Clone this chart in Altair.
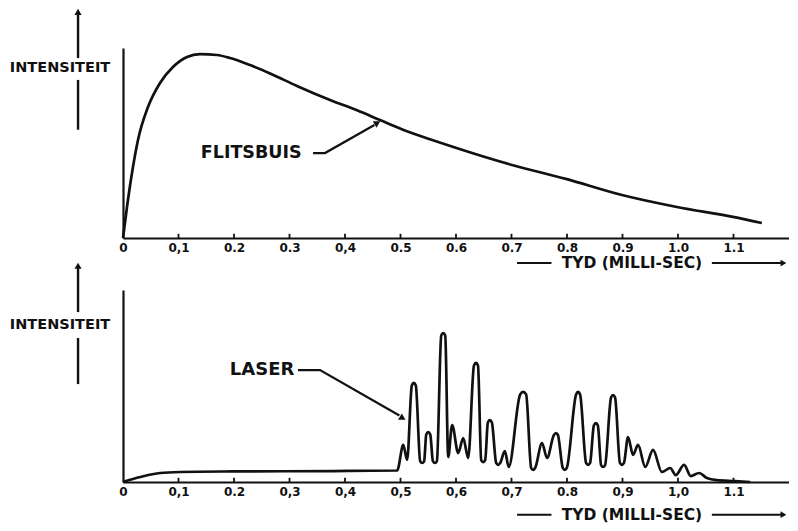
import altair as alt
import pandas as pd

# ---------------- data ----------------
# top panel: flash tube (FLITSBUIS) intensity, arbitrary units
flits_t = [0, 0.0072, 0.0162, 0.027, 0.045, 0.0667, 0.090, 0.1153, 0.1387, 0.1694, 0.193,
           0.229, 0.265, 0.3135, 0.373, 0.4216, 0.463, 0.5045, 0.553, 0.598, 0.701,
           0.798, 0.899, 0.998, 1.099, 1.151]
flits_i = [0, 16.3, 34.2, 51.6, 68.9, 81.6, 90.0, 95.3, 96.8, 96.3, 94.7,
           91.0, 86.6, 80.0, 72.6, 67.2, 62.1, 57.0, 52.0, 47.6, 38.4,
           31.1, 22.6, 16.3, 11.1, 7.9]

# bottom panel: laser output (spiking), arbitrary units
laser_t = [0, 0.031, 0.067, 0.103, 0.198, 0.378, 0.494,
           0.505, 0.512,
           0.5204, 0.524, 0.5276,
           0.5354, 0.539, 0.5426,
           0.5464, 0.550, 0.5536,
           0.5584, 0.562, 0.5656,
           0.5734, 0.577, 0.5806,
           0.586, 0.593, 0.604, 0.613, 0.622,
           0.6324, 0.636, 0.6396,
           0.6454, 0.649, 0.6526,
           0.6574, 0.661, 0.6646,
           0.6724, 0.676, 0.6796,
           0.688, 0.695,
           0.7156, 0.721, 0.7264,
           0.7354, 0.739, 0.7426,
           0.755, 0.764,
           0.7764, 0.780, 0.7836,
           0.7924, 0.796, 0.7996,
           0.8164, 0.820, 0.8236,
           0.8344, 0.838, 0.8416,
           0.8484, 0.852, 0.8556,
           0.8614, 0.865, 0.8686,
           0.8794, 0.883, 0.8866,
           0.8954, 0.899, 0.9026,
           0.910, 0.919, 0.928, 0.941, 0.955, 0.971, 0.986, 0.996, 1.011, 1.023,
           1.038, 1.052, 1.070, 1.103, 1.130]
laser_i = [0, 2.6, 4.7, 5.2, 5.5, 5.7, 6.0,
           19.3, 11.5,
           50.3, 51.6, 50.3,
           10.9, 9.9, 10.9,
           24.7, 26.0, 24.7,
           10.9, 9.9, 10.9,
           76.3, 77.6, 76.3,
           13.0, 29.7, 15.1, 22.9, 12.5,
           60.7, 62.0, 60.7,
           11.4, 10.4, 11.4,
           31.0, 32.3, 31.0,
           9.9, 8.9, 9.9,
           16.1, 7.8,
           45.6, 46.9, 45.6,
           7.3, 6.3, 7.3,
           20.3, 12.5,
           24.5, 25.5, 24.5,
           7.3, 6.3, 7.3,
           45.6, 46.9, 45.6,
           9.9, 8.9, 9.9,
           29.4, 30.7, 29.4,
           8.8, 7.8, 8.8,
           44.0, 45.3, 44.0,
           9.9, 8.9, 9.9,
           23.4, 14.1, 19.3, 7.8, 16.7, 5.2, 7.3, 3.6, 8.9, 3.1,
           4.7, 2.1, 1.0, 0.5, 0]

tick_values = [0, 0.1, 0.2, 0.3, 0.4, 0.5, 0.6, 0.7, 0.8, 0.9, 1.0, 1.1]
top_tick_labels = ["0", "0,1", "0.2", "0.3", "0,4", "0.5", "0.6", "0.7", "0.8", "0.9", "1.0", "1.1"]
bottom_tick_labels = ["0", "0,1", "0.2", "0,3", "0,4", "0,5", "0,6", "0,7", "0.8", "0,9", "1,0", "1.1"]

y_title = "INTENSITEIT"
x_title = "TYD (MILLI-SEC)"
top_label = "FLITSBUIS"
bottom_label = "LASER"

# ---------------- layout constants ----------------
W = 666
XD = [0, 1.2]
YD = [0, 100]
FONT = "DejaVu Sans"
INK = "#111111"


def label_expr(labels):
    arr = ",".join("'" + s + "'" for s in labels)
    return f"[{arr}][round(datum.value*10)]"


def panel(curve_t, curve_v, tick_labels, height, arrow_top, arrow_mid_hi, text_v,
          arrow_mid_lo, arrow_low, title_v, name_label, name_pos, name_size, leader,
          head, head_angle):
    xaxis = alt.Axis(values=tick_values, labelExpr=label_expr(tick_labels), domain=True,
                     domainWidth=2.2, domainColor=INK, ticks=False, grid=False,
                     labelFont=FONT, labelFontWeight="bold", labelFontSize=12,
                     labelColor=INK, labelPadding=4, labelFlush=False, title=None)
    yaxis = alt.Axis(domain=True, domainWidth=2.2, domainColor=INK, ticks=False,
                     labels=False, grid=False, title=None)
    xscale = alt.Scale(domain=XD, nice=False, zero=False)
    yscale = alt.Scale(domain=YD, nice=False, zero=False)

    def X():
        return alt.X("t:Q", scale=xscale, axis=xaxis)

    def Y():
        return alt.Y("v:Q", scale=yscale, axis=yaxis)

    curve_df = pd.DataFrame({"t": curve_t, "v": curve_v})
    curve = alt.Chart(curve_df).mark_line(
        interpolate="monotone", color=INK, strokeWidth=2.7
    ).encode(x=X(), y=Y())

    tick_df = pd.DataFrame({"t": tick_values[1:], "v": [0] * 11, "v2": [2.2] * 11})
    ticks = alt.Chart(tick_df).mark_rule(color=INK, strokeWidth=1.8).encode(
        x=X(), y=Y(), y2="v2:Q")

    # y axis arrow (outside plot)
    ax_t = -0.081
    yarrow_df = pd.DataFrame({"t": [ax_t, ax_t], "v": [arrow_mid_hi, arrow_low],
                              "v2": [arrow_top - 2, arrow_mid_lo]})
    yarrow = alt.Chart(yarrow_df).mark_rule(color=INK, strokeWidth=2.4).encode(
        x=X(), y=Y(), y2="v2:Q")
    yhead = alt.Chart(pd.DataFrame({"t": [ax_t], "v": [arrow_top - 2.0]})).mark_point(
        shape="triangle-up", filled=True, size=50, color=INK, opacity=1).encode(x=X(), y=Y())

    ytext = alt.Chart(pd.DataFrame({"t": [-0.1135], "v": [text_v], "s": [y_title]})).mark_text(
        font=FONT, fontWeight="bold", fontSize=14.5, color=INK, baseline="middle",
        align="center").encode(x=X(), y=Y(), text="s:N")

    # x title with dashes and arrow
    xt_df = pd.DataFrame({"t": [0.917], "v": [title_v], "s": [x_title]})
    xtext = alt.Chart(xt_df).mark_text(font=FONT, fontWeight="bold", fontSize=15.5,
                                       color=INK, baseline="middle", align="center").encode(
        x=X(), y=Y(), text="s:N")
    dash_df = pd.DataFrame({"t": [0.71, 1.061], "t2": [0.772, 1.19], "v": [title_v, title_v]})
    dashes = alt.Chart(dash_df).mark_rule(color=INK, strokeWidth=2).encode(
        x=X(), x2="t2:Q", y=Y())
    xhead = alt.Chart(pd.DataFrame({"t": [1.19], "v": [title_v]})).mark_point(
        shape="triangle-right", filled=True, size=45, color=INK, opacity=1).encode(x=X(), y=Y())

    # curve name label with leader arrow
    name_df = pd.DataFrame({"t": [name_pos[0]], "v": [name_pos[1]], "s": [name_label]})
    name = alt.Chart(name_df).mark_text(font=FONT, fontWeight="bold", fontSize=name_size,
                                        color=INK, baseline="middle", align="center").encode(
        x=X(), y=Y(), text="s:N")
    lead_df = pd.DataFrame({"t": [p[0] for p in leader], "v": [p[1] for p in leader],
                            "o": list(range(len(leader)))})
    lead = alt.Chart(lead_df).mark_line(color=INK, strokeWidth=2.2).encode(
        x=X(), y=Y(), order="o:Q")
    lhead = alt.Chart(pd.DataFrame({"t": [head[0]], "v": [head[1]]})).mark_point(
        shape="triangle-up", filled=True, size=55, color=INK, opacity=1,
        angle=head_angle).encode(x=X(), y=Y())

    # invisible anchor at the left page edge
    anchor = alt.Chart(pd.DataFrame({"t": [-0.2072], "v": [50], "v2": [50.5]})).mark_rule(
        opacity=0, strokeWidth=0.5).encode(x=X(), y=Y(), y2="v2:Q")

    return alt.layer(curve, ticks, yarrow, yhead, ytext, dashes, xtext, xhead,
                     name, lead, lhead, anchor).properties(width=W, height=height)


top = panel(flits_t, flits_i, top_tick_labels, 190,
            arrow_top=121, arrow_mid_hi=94.7, text_v=89.5, arrow_mid_lo=83.2, arrow_low=57,
            title_v=-13.2, name_label=top_label, name_pos=(0.231, 44.7), name_size=17.5,
            leader=[(0.3425, 44.7), (0.364, 44.7), (0.453, 59.5)],
            head=(0.4585, 60.6), head_angle=61)

bottom = panel(laser_t, laser_i, bottom_tick_labels, 192,
               arrow_top=114.6, arrow_mid_hi=88.5, text_v=81.8, arrow_mid_lo=75, arrow_low=51,
               title_v=-17.0, name_label=bottom_label, name_pos=(0.2505, 58.3), name_size=18,
               leader=[(0.3153, 58.3), (0.355, 58.3), (0.498, 34.6)],
               head=(0.504, 33.2), head_angle=120)

chart = alt.vconcat(top, bottom, spacing=52, bounds="flush",
                    padding={"left": 0, "top": 0, "right": 0, "bottom": 0}).configure_view(
    strokeWidth=0).properties(background="white")

chart.save("out.html", embed_options={"renderer": "svg", "actions": False})
